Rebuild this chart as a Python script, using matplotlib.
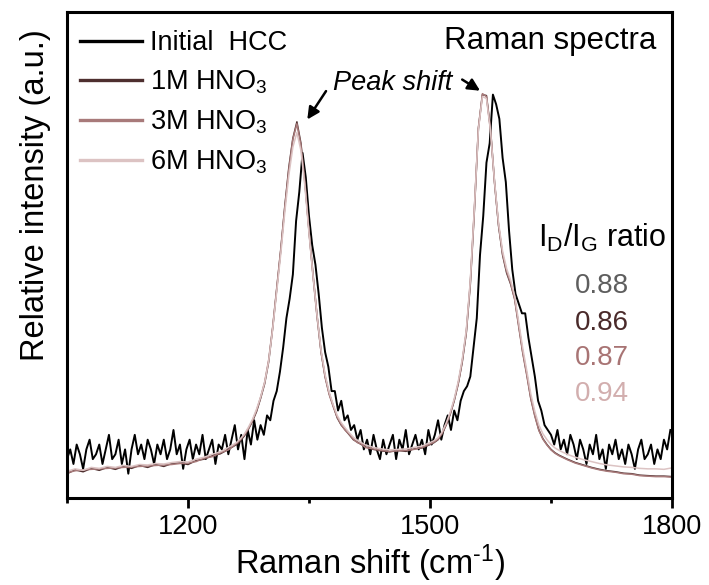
import numpy as np
import matplotlib
matplotlib.use('Agg')
import matplotlib.pyplot as plt

plt.rcParams['font.family'] = ['Liberation Sans', 'DejaVu Sans']
plt.rcParams['mathtext.fontset'] = 'custom'
plt.rcParams['mathtext.rm'] = 'Liberation Sans'
plt.rcParams['mathtext.it'] = 'Liberation Sans:italic'

# ---- data (intensity scaled to 0..1 of the frame) ----
# Initial HCC, sampled every 4 cm-1 from 1050 to 1798
x_hcc = np.arange(1050, 1800, 4)
y_hcc = [
    0.08, 0.10, 0.07, 0.11, 0.09, 0.06, 0.10, 0.12, 0.08, 0.09,
    0.11, 0.07, 0.10, 0.13, 0.08, 0.09, 0.12, 0.07, 0.10, 0.05,
    0.10, 0.13, 0.09, 0.11, 0.08, 0.12, 0.10, 0.07, 0.11, 0.09,
    0.12, 0.08, 0.10, 0.14, 0.09, 0.11, 0.06, 0.10, 0.12, 0.08,
    0.11, 0.09, 0.13, 0.08, 0.10, 0.12, 0.07, 0.11, 0.10, 0.13,
    0.09, 0.12, 0.15, 0.10, 0.13, 0.08, 0.14, 0.11, 0.16, 0.12,
    0.15, 0.13, 0.17, 0.16, 0.20, 0.22, 0.26, 0.31, 0.37, 0.41,
    0.46, 0.57, 0.63, 0.71, 0.66, 0.58, 0.52, 0.48, 0.42, 0.35,
    0.30, 0.27, 0.22, 0.22, 0.18, 0.20, 0.16, 0.17, 0.14, 0.15,
    0.12, 0.14, 0.10, 0.12, 0.09, 0.13, 0.10, 0.08, 0.12, 0.09,
    0.11, 0.13, 0.08, 0.12, 0.10, 0.14, 0.09, 0.11, 0.13, 0.10,
    0.12, 0.09, 0.14, 0.11, 0.13, 0.16, 0.12, 0.15, 0.17, 0.14,
    0.18, 0.16, 0.20, 0.22, 0.23, 0.25, 0.31, 0.37, 0.50, 0.58,
    0.69, 0.73, 0.83, 0.81, 0.78, 0.70, 0.65, 0.55, 0.47, 0.42,
    0.40, 0.38, 0.38, 0.33, 0.29, 0.25, 0.20, 0.18, 0.15, 0.14,
    0.13, 0.11, 0.14, 0.10, 0.12, 0.09, 0.13, 0.11, 0.08, 0.12,
    0.10, 0.07, 0.11, 0.09, 0.13, 0.08, 0.10, 0.06, 0.11, 0.09,
    0.12, 0.08, 0.10, 0.07, 0.11, 0.09, 0.06, 0.10, 0.12, 0.08,
    0.09, 0.11, 0.07, 0.10, 0.08, 0.12, 0.10, 0.14,
]

# acid treated samples: coarse on the baseline, fine across the peaks
x_acid = np.r_[np.arange(1050, 1261, 10), np.arange(1265, 1421, 5),
               np.arange(1430, 1501, 10), np.arange(1505, 1661, 5),
               np.arange(1670, 1801, 10)]
y_1m = [
    0.050, 0.058, 0.054, 0.061, 0.057, 0.063, 0.059, 0.065, 0.061, 0.067, 0.063,
    0.069, 0.065, 0.071, 0.072, 0.069, 0.077, 0.080, 0.087, 0.091, 0.100, 0.110,
    0.118, 0.128, 0.142, 0.158, 0.178, 0.205, 0.235, 0.280, 0.350, 0.430, 0.510,
    0.600, 0.680, 0.740, 0.774, 0.730, 0.650, 0.550, 0.460, 0.375, 0.300, 0.250,
    0.215, 0.190, 0.165, 0.150, 0.140, 0.130, 0.120, 0.115, 0.110, 0.105,
    0.100, 0.097, 0.095, 0.098, 0.096, 0.101, 0.103, 0.110,
    0.114, 0.120, 0.132, 0.150, 0.172, 0.200, 0.235, 0.280, 0.340, 0.440, 0.590,
    0.760, 0.830, 0.828, 0.760, 0.650, 0.560, 0.500, 0.463, 0.440, 0.410, 0.355,
    0.300, 0.255, 0.205, 0.170, 0.140, 0.122, 0.110, 0.100, 0.093, 0.088,
    0.080, 0.073, 0.068, 0.063, 0.059, 0.056, 0.054, 0.051, 0.050, 0.047, 0.046,
    0.045, 0.045, 0.044,
]
y_3m = [
    0.052, 0.056, 0.058, 0.059, 0.060, 0.061, 0.062, 0.063, 0.064, 0.065, 0.066,
    0.067, 0.068, 0.069, 0.071, 0.072, 0.075, 0.082, 0.085, 0.093, 0.099, 0.112,
    0.120, 0.130, 0.143, 0.160, 0.180, 0.207, 0.238, 0.284, 0.352, 0.432, 0.512,
    0.598, 0.676, 0.738, 0.770, 0.726, 0.646, 0.548, 0.456, 0.372, 0.300, 0.248,
    0.213, 0.188, 0.166, 0.151, 0.139, 0.131, 0.121, 0.114, 0.111, 0.104,
    0.101, 0.098, 0.096, 0.097, 0.098, 0.100, 0.104, 0.111,
    0.115, 0.121, 0.133, 0.151, 0.173, 0.201, 0.236, 0.282, 0.342, 0.445, 0.595,
    0.762, 0.832, 0.826, 0.756, 0.648, 0.562, 0.502, 0.466, 0.442, 0.408, 0.352,
    0.298, 0.252, 0.204, 0.168, 0.139, 0.121, 0.109, 0.099, 0.092, 0.087,
    0.079, 0.072, 0.067, 0.062, 0.058, 0.055, 0.053, 0.050, 0.049, 0.046, 0.045,
    0.044, 0.044, 0.043,
]
y_6m = [
    0.055, 0.060, 0.057, 0.063, 0.061, 0.065, 0.063, 0.067, 0.065, 0.069, 0.068,
    0.071, 0.070, 0.073, 0.075, 0.074, 0.080, 0.084, 0.090, 0.095, 0.104, 0.114,
    0.122, 0.132, 0.146, 0.162, 0.183, 0.208, 0.238, 0.282, 0.348, 0.425, 0.502,
    0.588, 0.664, 0.722, 0.752, 0.715, 0.640, 0.545, 0.458, 0.376, 0.304, 0.254,
    0.218, 0.192, 0.170, 0.155, 0.144, 0.134, 0.125, 0.119, 0.114, 0.109,
    0.104, 0.101, 0.099, 0.100, 0.101, 0.104, 0.107, 0.114,
    0.118, 0.124, 0.136, 0.154, 0.176, 0.204, 0.240, 0.286, 0.346, 0.448, 0.596,
    0.758, 0.826, 0.822, 0.756, 0.652, 0.566, 0.508, 0.472, 0.448, 0.416, 0.362,
    0.308, 0.262, 0.214, 0.178, 0.150, 0.132, 0.120, 0.110, 0.103, 0.098,
    0.090, 0.084, 0.079, 0.075, 0.071, 0.068, 0.066, 0.064, 0.063, 0.061, 0.060,
    0.060, 0.059, 0.062,
]

labels = ['Initial  HCC', '1M HNO$_3$', '3M HNO$_3$', '6M HNO$_3$']
colors = ['#000000', '#4e2f2f', '#a87a7a', '#dcc3c3']
ratios = ['0.88', '0.86', '0.87', '0.94']
ratio_colors = ['#5e5e5e', '#4a2a2a', '#a87474', '#d2aeae']

# ---- figure ----
fig = plt.figure(figsize=(7.09, 5.85), dpi=100)
ax = fig.add_axes([0.0945, 0.1487, 0.8533, 0.8308])

ax.plot(x_hcc, y_hcc, color=colors[0], lw=1.4, label=labels[0])
ax.plot(x_acid, y_1m, color=colors[1], lw=1.1, label=labels[1])
ax.plot(x_acid, y_3m, color=colors[2], lw=1.1, label=labels[2])
ax.plot(x_acid, y_6m, color=colors[3], lw=1.1, label=labels[3])

ax.set_xlim(1050, 1800)
ax.set_ylim(0, 1)
ax.set_yticks([])
ax.set_xticks([1200, 1500, 1800])
ax.set_xticks([1050, 1350, 1650], minor=True)
ax.tick_params(axis='x', which='major', direction='out', length=7.2, width=2,
               labelsize=19.5, pad=4)
ax.tick_params(axis='x', which='minor', direction='out', length=3.6, width=2)
for s in ax.spines.values():
    s.set_linewidth(2.2)

ax.set_xlabel('Raman shift (cm$^{\\text{-}1}$)', fontsize=23.5, labelpad=2)
ax.set_ylabel('Relative intensity (a.u.)', fontsize=23.5)
ax.yaxis.set_label_coords(-0.027, 0.623)

leg = ax.legend(loc='upper left', bbox_to_anchor=(0.0215, 0.962), frameon=False,
                fontsize=19.5, handlelength=2.3, handletextpad=0.3,
                labelspacing=0.45, borderpad=0, borderaxespad=0)
for line in leg.get_lines():
    line.set_linewidth(2.4)

ax.text(0.975, 0.924, 'Raman spectra', transform=ax.transAxes, ha='right',
        va='baseline', fontsize=22.5)
ax.text(0.44, 0.8395, 'Peak shift', transform=ax.transAxes, ha='left',
        va='baseline', fontsize=19.5, style='italic')
arrow = dict(arrowstyle='-|>', color='k', lw=1.8, mutation_scale=18)
ax.annotate('', xy=(1346, 0.774), xytext=(1373, 0.842), arrowprops=arrow)
ax.annotate('', xy=(1565, 0.835), xytext=(1537, 0.864), arrowprops=arrow)

ax.text(0.884, 0.516, 'I$_\\mathregular{D}$/I$_\\mathregular{G}$ ratio',
        transform=ax.transAxes, ha='center', va='baseline', fontsize=22)
ratio_y = [0.4218, 0.3457, 0.2737, 0.1996]
for txt, c, yy in zip(ratios, ratio_colors, ratio_y):
    ax.text(0.884, yy, txt, transform=ax.transAxes, ha='center',
            va='baseline', fontsize=20, color=c)

fig.savefig('out.png', dpi=100)
